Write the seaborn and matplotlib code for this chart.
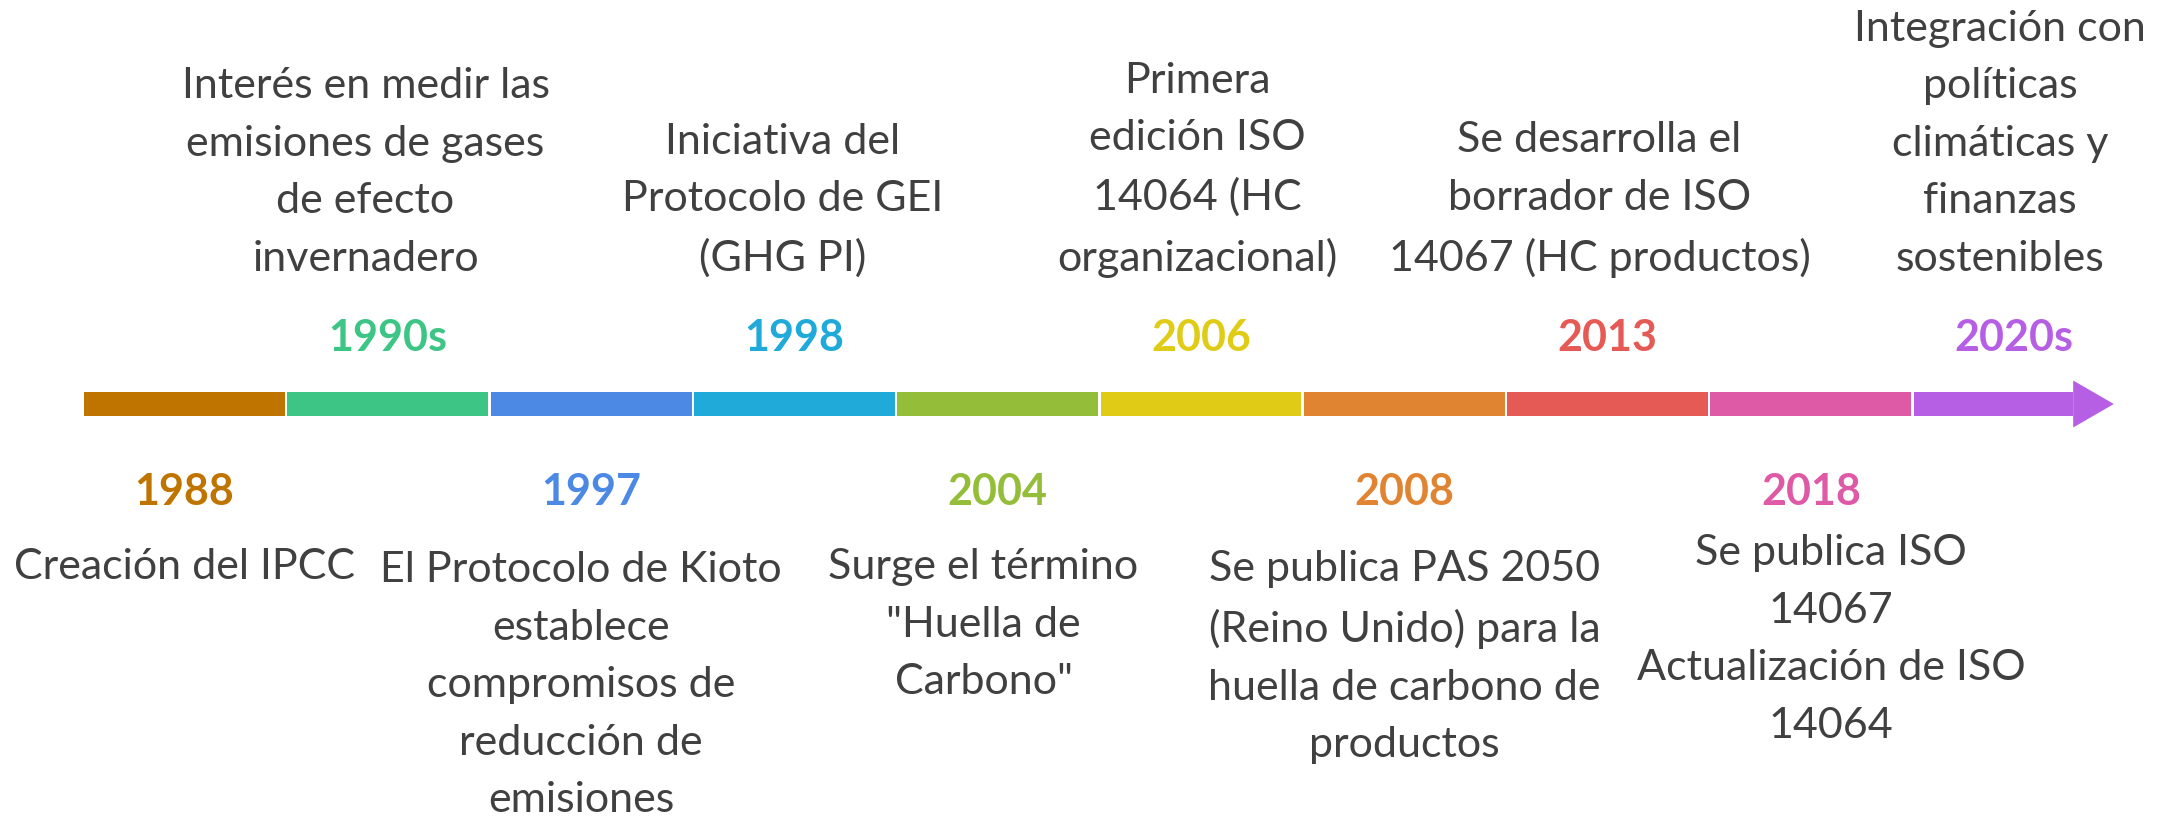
import matplotlib
matplotlib.use("Agg")
import matplotlib.pyplot as plt
import seaborn as sns
import pandas as pd

# Timeline data
years = ["1988", "1990s", "1997", "1998", "2004", "2006", "2008", "2013", "2018", "2020s"]
events = [
    "Creación del IPCC",
    "Interés en medir las\nemisiones de gases\nde efecto\ninvernadero",
    "El Protocolo de Kioto\nestablece\ncompromisos de\nreducción de\nemisiones",
    "Iniciativa del\nProtocolo de GEI\n(GHG PI)",
    "Surge el término\n\"Huella de\nCarbono\"",
    "Primera\nedición ISO\n14064 (HC\norganizacional)",
    "Se publica PAS 2050\n(Reino Unido) para la\nhuella de carbono de\nproductos",
    "Se desarrolla el\nborrador de ISO\n14067 (HC productos)",
    "Se publica ISO\n14067\nActualización de ISO\n14064",
    "Integración con\npolíticas\nclimáticas y\nfinanzas\nsostenibles",
]
colors = ["#C07400", "#3CC585", "#4B89E5", "#20AADA", "#94BD3A",
          "#E0CC16", "#E08432", "#E65A55", "#DE5AA6", "#B75FE4"]

# layout (pixel-like units, bar bottom at 0)
BAR_H = 24
HEAD_H = 47
text_dx = [0, -0.11, -0.05, -0.06, -0.07, -0.02, 0, -0.04, 0.1, -0.07]
text_dy = [0, 0, -3, 0, 0, 0, -2, 0, 14, 0]

sns.set_theme(style="white")
plt.rcParams['font.family'] = ['Lato', 'DejaVu Sans']

fig = plt.figure(figsize=(21.74, 8.19), dpi=100)
ax = fig.add_axes([0, 0, 1, 1])

df = pd.DataFrame({"year": years, "thick": [BAR_H] * len(years)})
sns.barplot(data=df, x="year", y="thick", hue="year", palette=colors,
            width=0.988, saturation=1, legend=False, edgecolor="none", ax=ax)

# last segment becomes an arrow
last = ax.patches[len(years) - 1]
body_end = len(years) - 1 + 0.29
last.set_width(body_end - last.get_x())
tip = len(years) - 1 + 0.49
mid = BAR_H / 2
ax.fill([body_end, body_end, tip], [mid - HEAD_H / 2, mid + HEAD_H / 2, mid],
        color=colors[-1], lw=0)

txt_color = "#404040"
for i, (yr, ev, c) in enumerate(zip(years, events, colors)):
    x = i + text_dx[i]
    if i % 2 == 0:
        ax.text(i, -76, yr, ha="center", va="center", color=c,
                fontsize=31, fontweight="bold")
        ax.text(x, -132 + text_dy[i], ev, ha="center", va="top", color=txt_color,
                fontsize=31, linespacing=1.63)
    else:
        ax.text(i, 78, yr, ha="center", va="center", color=c,
                fontsize=31, fontweight="bold")
        ax.text(x, 138, ev, ha="center", va="bottom", color=txt_color,
                fontsize=31, linespacing=1.63)

ax.set_xlim(-0.908, 9.786)
ax.set_ylim(-403, 416)
ax.axis("off")

plt.savefig("out.png", dpi=100)
